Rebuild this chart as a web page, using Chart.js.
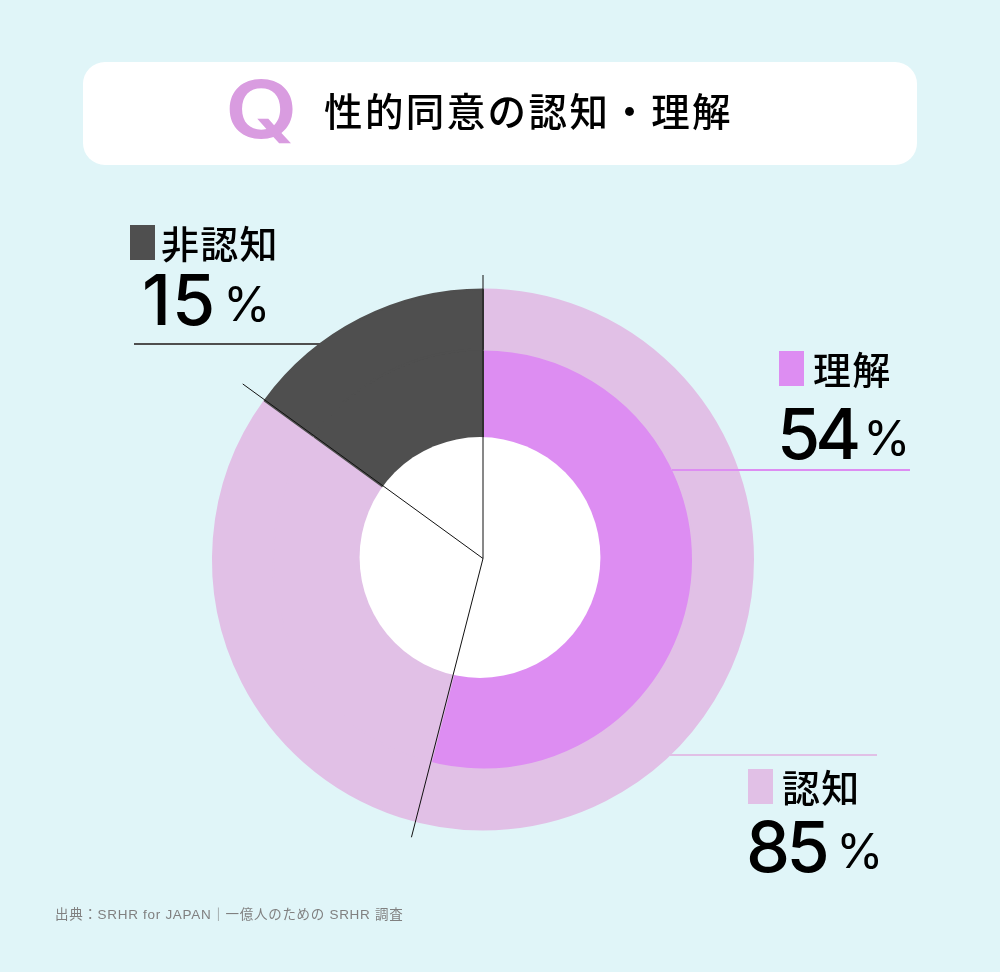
<!DOCTYPE html>
<html lang="ja">
<head>
<meta charset="utf-8">
<title>性的同意の認知・理解</title>
<script src="https://cdn.jsdelivr.net/npm/chart.js@4/dist/chart.umd.min.js"></script>
<style>
  html, body { margin: 0; padding: 0; }
  body { position: relative; width: 1000px; height: 972px; overflow: hidden; background: #e0f5f8; color: #000;
    font-family: "Noto Sans CJK JP", sans-serif; }
  canvas { position: absolute; left: 0; top: 0; }
  .abs { position: absolute; white-space: nowrap; }
  #card { left: 83px; top: 62px; width: 834px; height: 103px; background: #fff; border-radius: 22px; }
  #q { left: 225px; top: 60px; font: 600 94px/110px Inter, sans-serif; color: #d99ce0; transform: scaleY(0.85); transform-origin: 50% 17px; }
  #title { left: 324px; top: 82px; font-size: 38.5px; line-height: 54px; font-weight: 500; letter-spacing: 2.4px; }
  .swatch { width: 25px; height: 35px; }
  .name { font-size: 38px; line-height: 50px; font-weight: 500; letter-spacing: 1.2px; }
  .pct { font: 500 70px/90px Inter, sans-serif; }
  .pct span { position: relative; top: -4px; font-size: 48px; font-weight: 400; letter-spacing: 0; }
  .rule { height: 2px; }
  #source { left: 55px; top: 905px; font-family: "Liberation Sans", "Noto Sans CJK JP", sans-serif;
    font-size: 13.5px; line-height: 20px; color: #808080; letter-spacing: 0.7px; }
</style>
</head>
<body>
<canvas id="chart" width="1000" height="972"></canvas>
<div class="abs" id="card"></div>
<div class="abs" id="q">Q</div>
<div class="abs" id="title">性的同意の認知・理解</div>

<div class="abs swatch" id="sw0" style="left:779px;top:351px"></div>
<div class="abs name" id="name0" style="left:813px;top:343px"></div>
<div class="abs pct" id="pct0" style="left:777px;top:389px;letter-spacing:-5px"></div>
<div class="abs rule" id="rule0" style="left:672px;top:469px;width:238px"></div>

<div class="abs swatch" id="sw1" style="left:748px;top:769px"></div>
<div class="abs name" id="name1" style="left:782px;top:761px"></div>
<div class="abs pct" id="pct1" style="left:746px;top:802px;letter-spacing:-3.5px"></div>
<div class="abs rule" id="rule1" style="left:670px;top:754px;width:207px"></div>

<div class="abs swatch" id="sw2" style="left:130px;top:225px"></div>
<div class="abs name" id="name2" style="left:161px;top:217px"></div>
<div class="abs pct" id="pct2" style="left:142px;top:255px;letter-spacing:1px"></div>
<div class="abs rule" id="rule2" style="left:134px;top:343px;width:186px"></div>

<div class="abs" id="source">出典：SRHR for JAPAN｜一億人のための SRHR 調査</div>

<script>
const labels = ['理解', '認知', '非認知'];
const percents = [54, 85, 15];

// outer ring: aware / not aware. inner ring: understand / aware only / not aware
const outerValues = [85, 15];
const innerValues = [54, 31, 15];

const purple = '#dd8df2';
const lilac = '#e1c0e6';
const dark = '#4f4f4f';
const colors = [purple, lilac, dark];
const pctGaps = [7, 10, 7];

labels.forEach((label, i) => {
    document.getElementById('sw' + i).style.background = colors[i];
    document.getElementById('name' + i).textContent = label;
    document.getElementById('pct' + i).innerHTML =
        percents[i] + '<span style="margin-left:' + pctGaps[i] + 'px">%</span>';
    document.getElementById('rule' + i).style.background = colors[i];
});

// white hole sits slightly off the ring centre in the original
const holeAndLines = {
    id: 'holeAndLines',
    afterDatasetsDraw(chart) {
        const inner = chart.getDatasetMeta(1).data;
        const cx = inner[0].x;
        const cy = inner[0].y;
        const outerRadius = chart.getDatasetMeta(0).data[0].outerRadius;
        const ctx = chart.ctx;
        ctx.save();
        ctx.fillStyle = '#fff';
        ctx.beginPath();
        ctx.arc(cx - 3, cy - 2, outerRadius * 0.446, 0, Math.PI * 2);
        ctx.fill();

        const spokes = [
            [inner[0].startAngle, 1.05],
            [inner[0].endAngle, 1.066],
            [inner[2].startAngle, 1.1]
        ];
        ctx.strokeStyle = '#111';
        ctx.lineWidth = 1;
        spokes.forEach(([angle, reach]) => {
            ctx.beginPath();
            ctx.moveTo(cx, cy - 1);
            ctx.lineTo(cx + Math.cos(angle) * outerRadius * reach,
                       cy - 1 + Math.sin(angle) * outerRadius * reach);
            ctx.stroke();
        });
        ctx.restore();
    }
};

new Chart(document.getElementById('chart'), {
    type: 'doughnut',
    data: {
        datasets: [
            {
                label: '認知',
                data: outerValues,
                backgroundColor: [lilac, dark],
                borderColor: [lilac, dark],
                borderWidth: 2,
                weight: 60
            },
            {
                label: '理解',
                data: innerValues,
                backgroundColor: [purple, lilac, dark],
                borderColor: [purple, lilac, dark],
                borderWidth: 2,
                weight: 102
            }
        ],
    },
    options: {
        responsive: false,
        animation: false,
        cutout: '40%',
        layout: { padding: { left: 212, right: 246, top: 288.5, bottom: 141.5 } },
        plugins: {
            legend: { display: false },
            tooltip: { enabled: false }
        }
    },
    plugins: [holeAndLines]
});
</script>
</body>
</html>
